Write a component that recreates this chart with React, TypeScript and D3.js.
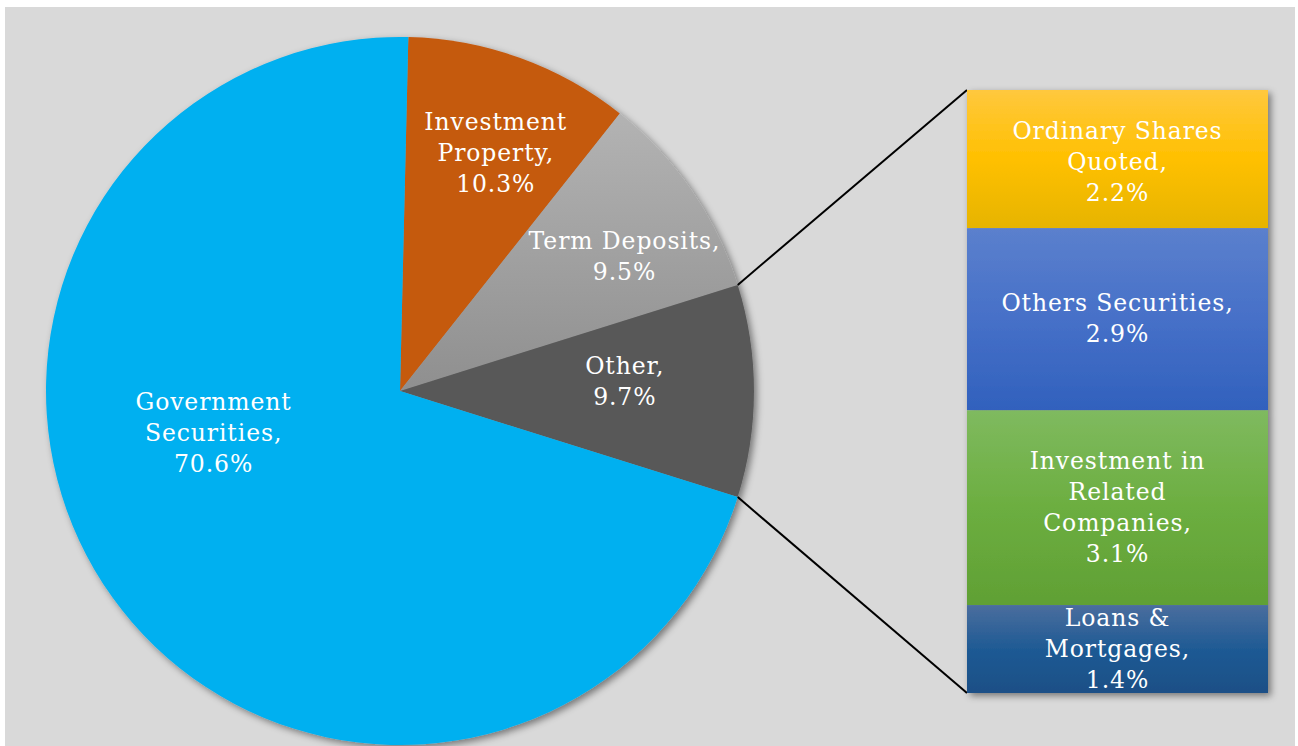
import React from 'react';
import * as d3 from 'd3';

// pie slices, clockwise from the top
const pieLabels = ['Investment Property', 'Term Deposits', 'Other', 'Government Securities'];
const pieValues = [10.3, 9.5, 9.7, 70.6];
const pieLines = [
  ['Investment', 'Property,', '10.3%'],
  ['Term Deposits,', '9.5%'],
  ['Other,', '9.7%'],
  ['Government', 'Securities,', '70.6%'],
];

// breakdown of "Other", top to bottom
const barLabels = ['Ordinary Shares Quoted', 'Others Securities', 'Investment in Related Companies', 'Loans & Mortgages'];
const barValues = [2.2, 2.9, 3.1, 1.4];
const barLines = [
  ['Ordinary Shares', 'Quoted,', '2.2%'],
  ['Others Securities,', '2.9%'],
  ['Investment in', 'Related', 'Companies,', '3.1%'],
  ['Loans &', 'Mortgages,', '1.4%'],
];

const W = 1298;
const H = 746;
const cx = 400;
const cy = 391;
const R = 354;
const bar = { x: 967, top: 90, bottom: 693, w: 301 };
const lineH = 31;
const font = '"DejaVu Serif", serif';
const fontSize = 23.5;

const pieFill = ['#c55a11', 'url(#gTerm)', '#595959', '#00b0f0'];
const barGrad = [
  ['#ffc83e', '#ffc000', '#e6b400'],
  ['#5b80cd', '#4670c8', '#3161bd'],
  ['#7fba5f', '#6cae40', '#60a034'],
  ['#4a6e9e', '#1f5a94', '#1d4f86'],
];
// where each pie label sits: [radius, angle offset in degrees]
const pieLabelPos = [
  [257, 2],
  [262, 3.5],
  [225, -2.4],
  [191, 23],
];
// small vertical nudges for bar labels
const barLabelNudge = [3, -1, 0, 0];

export default function App() {
  const total = d3.sum(pieValues);
  const otherIdx = pieLabels.indexOf('Other');
  const before = d3.sum(pieValues.slice(0, otherIdx)) + pieValues[otherIdx] / 2;
  const start = Math.PI / 2 - (before / total) * 2 * Math.PI;

  const arcs = d3.pie<number>().sort(null).startAngle(start).endAngle(start + 2 * Math.PI)(pieValues);
  const arc = d3.arc<d3.PieArcDatum<number>>().innerRadius(0).outerRadius(R);

  const y = d3.scaleLinear().domain([0, d3.sum(barValues)]).range([bar.top, bar.bottom]);
  const cum = d3.cumsum(barValues);
  const segs = barValues.map((v, i) => ({ y0: y(cum[i] - v), y1: y(cum[i]) }));

  const o = arcs[otherIdx];
  const pt = (a: number) => [cx + R * Math.sin(a), cy - R * Math.cos(a)];
  const [ax, ay] = pt(o.startAngle);
  const [bx, by] = pt(o.endAngle);

  const textBlock = (lines: string[], x: number, yc: number, key: string) => (
    <text
      key={key}
      x={x}
      textAnchor="middle"
      fill="#fff"
      fontFamily={font}
      fontSize={fontSize}
      letterSpacing={0.9}
    >
      {lines.map((l, j) => (
        <tspan key={j} x={x} y={yc + (j - (lines.length - 1) / 2) * lineH} dy="0.35em">
          {l}
        </tspan>
      ))}
    </text>
  );

  return (
    <div style={{ position: 'fixed', left: 0, top: 0 }}>
      <svg width={W} height={H} style={{ display: 'block', background: '#fff' }}>
        <defs>
          <filter id="shadow" x="-10%" y="-10%" width="130%" height="130%">
            <feDropShadow dx="3" dy="3" stdDeviation="3.5" floodColor="#000" floodOpacity="0.45" />
          </filter>
          <linearGradient id="gTerm" x1="0" y1="0" x2="0" y2="1">
            <stop offset="0" stopColor="#b3b3b3" />
            <stop offset="1" stopColor="#8f8f8f" />
          </linearGradient>
          {barGrad.map((g, i) => (
            <linearGradient key={i} id={`gBar${i}`} x1="0" y1="0" x2="0" y2="1">
              <stop offset="0" stopColor={g[0]} />
              <stop offset="0.5" stopColor={g[1]} />
              <stop offset="1" stopColor={g[2]} />
            </linearGradient>
          ))}
        </defs>
        <rect x={5} y={7} width={1290} height={H - 7} fill="#d9d9d9" />

        <g filter="url(#shadow)">
          <g transform={`translate(${cx},${cy})`}>
            {arcs.map((a, i) => (
              <path key={pieLabels[i]} d={arc(a) ?? ''} fill={pieFill[i]} />
            ))}
          </g>
        </g>

        <line x1={ax} y1={ay} x2={bar.x} y2={bar.top} stroke="#000" strokeWidth={2} />
        <line x1={bx} y1={by} x2={bar.x} y2={bar.bottom} stroke="#000" strokeWidth={2} />

        <g filter="url(#shadow)">
          {segs.map((s, i) => (
            <rect key={barLabels[i]} x={bar.x} y={s.y0} width={bar.w} height={s.y1 - s.y0} fill={`url(#gBar${i})`} />
          ))}
        </g>

        {arcs.map((a, i) => {
          const [r, off] = pieLabelPos[i];
          const m = (a.startAngle + a.endAngle) / 2 + (off * Math.PI) / 180;
          return textBlock(pieLines[i], cx + r * Math.sin(m), cy - r * Math.cos(m), `pl${i}`);
        })}
        {segs.map((s, i) =>
          textBlock(barLines[i], bar.x + bar.w / 2, (s.y0 + s.y1) / 2 + barLabelNudge[i], `bl${i}`)
        )}
      </svg>
    </div>
  );
}
